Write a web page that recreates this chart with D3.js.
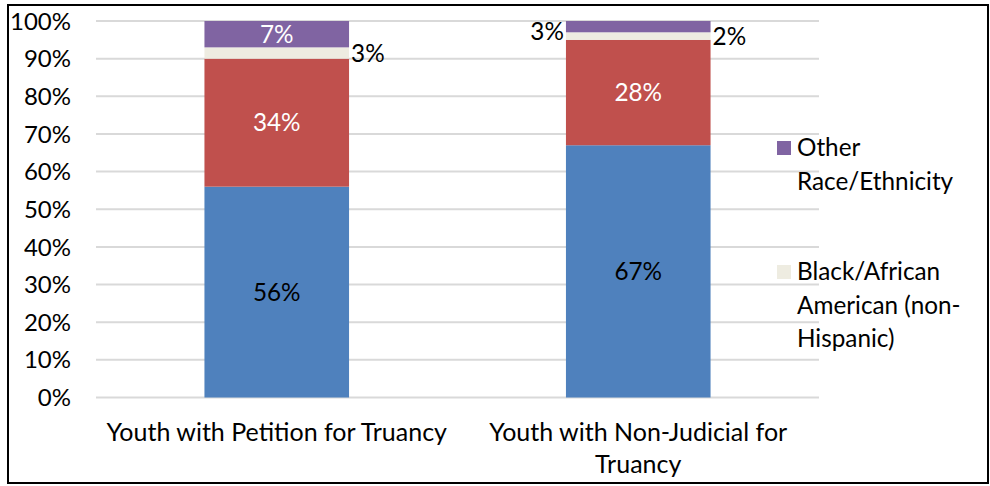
<!DOCTYPE html>
<html>
<head>
<meta charset="utf-8">
<script src="https://d3js.org/d3.v7.min.js"></script>
<style>
  body { margin: 0; background: #fff; }
  text { font-family: Lato, "Open Sans", sans-serif; }
</style>
</head>
<body>
<div id="my_dataviz"></div>
<script>
// data
var categories = ["Youth with Petition for Truancy", "Youth with Non-Judicial for Truancy"];
var seriesNames = ["White (non-Hispanic)", "Hispanic", "Black/African American (non-Hispanic)", "Other Race/Ethnicity"];
var seriesColors = ["#4F81BD", "#C0504D", "#EEECE1", "#8064A2"];
var whiteValues = [56, 67];
var hispanicValues = [34, 28];
var blackValues = [3, 2];
var otherValues = [7, 3];
var yTicks = [0, 10, 20, 30, 40, 50, 60, 70, 80, 90, 100];

var seriesValues = [whiteValues, hispanicValues, blackValues, otherValues];

var width = 990, height = 486;
var fontSize = 24.3;
var catFontSize = 25;

var svg = d3.select("#my_dataviz").append("svg")
    .attr("width", width)
    .attr("height", height);

// outer frame
svg.append("rect")
    .attr("x", 8).attr("y", 5)
    .attr("width", 980).attr("height", 478)
    .attr("fill", "none")
    .attr("stroke", "#000")
    .attr("stroke-width", 2);

var x = d3.scaleBand()
    .domain(categories)
    .range([96, 819])
    .paddingInner(0.6)
    .paddingOuter(0.3);

var y = d3.scaleLinear()
    .domain([0, 100])
    .range([397.5, 21]);

// gridlines
svg.append("g").selectAll("line")
    .data(yTicks)
    .enter().append("line")
    .attr("x1", 96).attr("x2", 819)
    .attr("y1", function(d) { return y(d); })
    .attr("y2", function(d) { return y(d); })
    .attr("stroke", "#D9D9D9")
    .attr("stroke-width", 2);

// y axis labels
svg.append("g").selectAll("text")
    .data(yTicks)
    .enter().append("text")
    .attr("x", 71)
    .attr("y", function(d) { return y(d); })
    .attr("dy", "0.36em")
    .attr("text-anchor", "end")
    .attr("font-size", 24)
    .attr("fill", "#000")
    .text(function(d) { return d + "%"; });

// stack the data
var rows = categories.map(function(c, i) {
    var r = { category: c };
    seriesNames.forEach(function(s, j) { r[s] = seriesValues[j][i]; });
    return r;
});
var stacked = d3.stack().keys(seriesNames)(rows);

var layers = svg.append("g").selectAll("g")
    .data(stacked)
    .enter().append("g")
    .attr("fill", function(d, i) { return seriesColors[i]; });

layers.selectAll("rect")
    .data(function(d) { return d; })
    .enter().append("rect")
    .attr("x", function(d) { return x(d.data.category); })
    .attr("y", function(d) { return y(d[1]); })
    .attr("width", x.bandwidth())
    .attr("height", function(d) { return y(d[0]) - y(d[1]); });

// data labels
stacked.forEach(function(layer, si) {
    layer.forEach(function(d) {
        var v = d[1] - d[0];
        var cx = x(d.data.category) + x.bandwidth() / 2;
        var cy = y((d[0] + d[1]) / 2);
        var anchor = "middle";
        var color = si === 0 ? "#000" : "#fff";
        if (v < 5) {
            color = "#000";
            if (si === 2) { cx = x(d.data.category) + x.bandwidth() + 2; anchor = "start"; }
            else { cx = x(d.data.category) - 2; anchor = "end"; cy += 5; }
        }
        svg.append("text")
            .attr("x", cx)
            .attr("y", cy)
            .attr("dy", "0.36em")
            .attr("text-anchor", anchor)
            .attr("font-size", fontSize)
            .attr("fill", color)
            .text(v + "%");
    });
});

// wrap text into lines, breaking at spaces and after hyphens
function wrapLines(str, maxWidth, size) {
    var tokens = str.split(/(?<=[\s-])/);
    var probe = svg.append("text").attr("font-size", size);
    var lines = [], cur = "";
    tokens.forEach(function(t) {
        var test = cur + t;
        probe.text(test.trim());
        if (cur && probe.node().getComputedTextLength() > maxWidth) {
            lines.push(cur.trim());
            cur = t;
        } else {
            cur = test;
        }
    });
    if (cur) lines.push(cur.trim());
    probe.remove();
    return lines;
}

// category labels
categories.forEach(function(c) {
    var lines = wrapLines(c, 350, catFontSize);
    var t = svg.append("text")
        .attr("text-anchor", "middle")
        .attr("font-size", catFontSize)
        .attr("fill", "#000");
    lines.forEach(function(l, i) {
        t.append("tspan")
            .attr("x", x(c) + x.bandwidth() / 2)
            .attr("y", 441 + i * 32)
            .text(l);
    });
});

// legend (only the two top series are visible)
var legendItems = [3, 2];
var legendTops = [141, 265];
legendItems.forEach(function(si, k) {
    var top = legendTops[k];
    svg.append("rect")
        .attr("x", 777).attr("y", top)
        .attr("width", 14).attr("height", 14)
        .attr("fill", seriesColors[si]);
    var lines = wrapLines(seriesNames[si], 178, fontSize);
    var t = svg.append("text")
        .attr("font-size", fontSize)
        .attr("fill", "#000");
    lines.forEach(function(l, i) {
        t.append("tspan")
            .attr("x", 797)
            .attr("y", top + 15 + i * 33.5)
            .text(l);
    });
});
</script>
</body>
</html>
